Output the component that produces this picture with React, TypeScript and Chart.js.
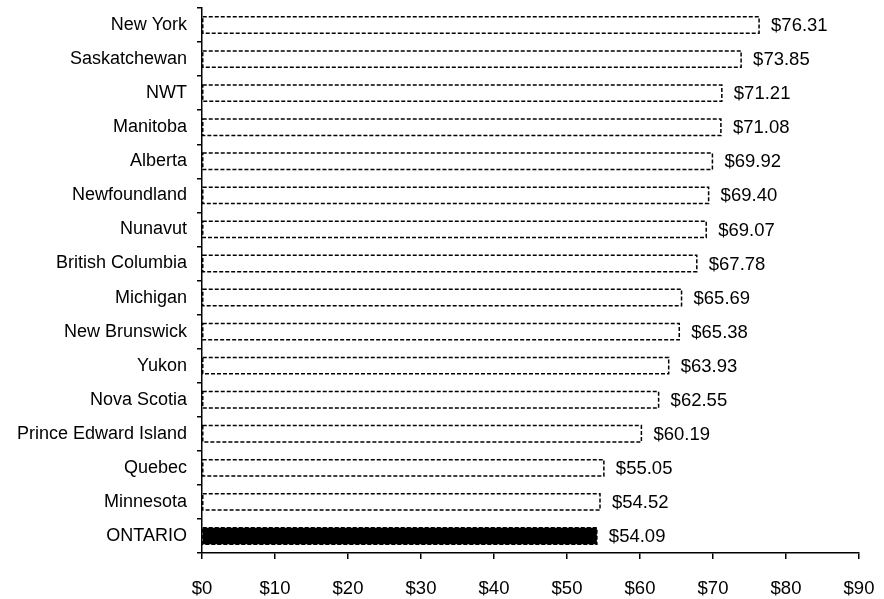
import React, { useEffect, useRef } from "react";
import { Chart, registerables } from "chart.js";

Chart.register(...registerables);

const categories = [
  "New York", "Saskatchewan", "NWT", "Manitoba", "Alberta", "Newfoundland",
  "Nunavut", "British Columbia", "Michigan", "New Brunswick", "Yukon",
  "Nova Scotia", "Prince Edward Island", "Quebec", "Minnesota", "ONTARIO",
];
const values = [
  76.31, 73.85, 71.21, 71.08, 69.92, 69.4, 69.07, 67.78, 65.69, 65.38, 63.93,
  62.55, 60.19, 55.05, 54.52, 54.09,
];
const xTicks = [0, 10, 20, 30, 40, 50, 60, 70, 80, 90];
const highlight = "ONTARIO";

const FONT = "'Liberation Sans', Arial, sans-serif";

const dashedBars = {
  id: "dashedBars",
  afterDatasetsDraw(chart: any) {
    const ctx = chart.ctx;
    const meta = chart.getDatasetMeta(0);
    ctx.save();
    meta.data.forEach((bar: any, i: number) => {
      const { x, y, base, height } = bar.getProps(["x", "y", "base", "height"], true);
      const left = Math.min(base, x);
      const right = Math.max(base, x);
      const top = y - height / 2;
      ctx.setLineDash([4, 2]);
      ctx.lineWidth = 1.5;
      ctx.strokeStyle = "#000";
      ctx.strokeRect(left, top, right - left, height);
      ctx.setLineDash([]);
      ctx.fillStyle = "#000";
      ctx.font = `18.5px ${FONT}`;
      ctx.textAlign = "left";
      ctx.textBaseline = "middle";
      ctx.fillText("$" + values[i].toFixed(2), right + 12, y + 1);
    });
    ctx.restore();
  },
};

export default function App() {
  const ref = useRef<HTMLCanvasElement>(null);
  useEffect(() => {
    if (!ref.current) return;
    const chart = new Chart(ref.current, {
      type: "bar",
      data: {
        labels: categories,
        datasets: [
          {
            data: values,
            backgroundColor: categories.map((c) => (c === highlight ? "#000" : "#fff")),
            borderWidth: 0,
            categoryPercentage: 1,
            barPercentage: 0.48,
          },
        ],
      },
      options: {
        indexAxis: "y",
        animation: false,
        responsive: false,
        maintainAspectRatio: false,
        layout: { padding: { top: 8, right: 25, left: 0, bottom: 1 } },
        plugins: { legend: { display: false }, tooltip: { enabled: false } },
        scales: {
          x: {
            min: 0,
            max: 90,
            afterBuildTicks: (s: any) => {
              s.ticks = xTicks.map((v) => ({ value: v }));
            },
            afterFit: (s: any) => {
              s.paddingLeft = 0;
              s.paddingRight = 0;
              s.height = 45;
            },
            ticks: {
              color: "#000",
              font: { family: FONT, size: 18.5 },
              padding: 19,
              maxRotation: 0,
              callback: (v: any) => "$" + v,
            },
            grid: { drawOnChartArea: false, drawTicks: true, tickLength: 6, color: "#000", lineWidth: 1.5 },
            border: { display: true, color: "#000", width: 1.5, dash: [4, 3] },
          },
          y: {
            afterFit: (s: any) => {
              s.width = 202;
              s.paddingTop = 0;
              s.paddingBottom = 0;
            },
            ticks: {
              color: "#000",
              font: { family: FONT, size: 18 },
              padding: 10,
            },
            grid: { drawOnChartArea: false, drawTicks: true, tickLength: 5, color: "#000", lineWidth: 1.5, offset: true },
            border: { display: true, color: "#000", width: 1.5, dash: [4, 3] },
          },
        },
      },
      plugins: [dashedBars],
    });
    return () => chart.destroy();
  }, []);
  return (
    <div style={{ position: "absolute", left: 0, top: 0, width: 884, height: 599, background: "#fff" }}>
      <canvas ref={ref} width={884} height={599} style={{ width: 884, height: 599 }} />
    </div>
  );
}
